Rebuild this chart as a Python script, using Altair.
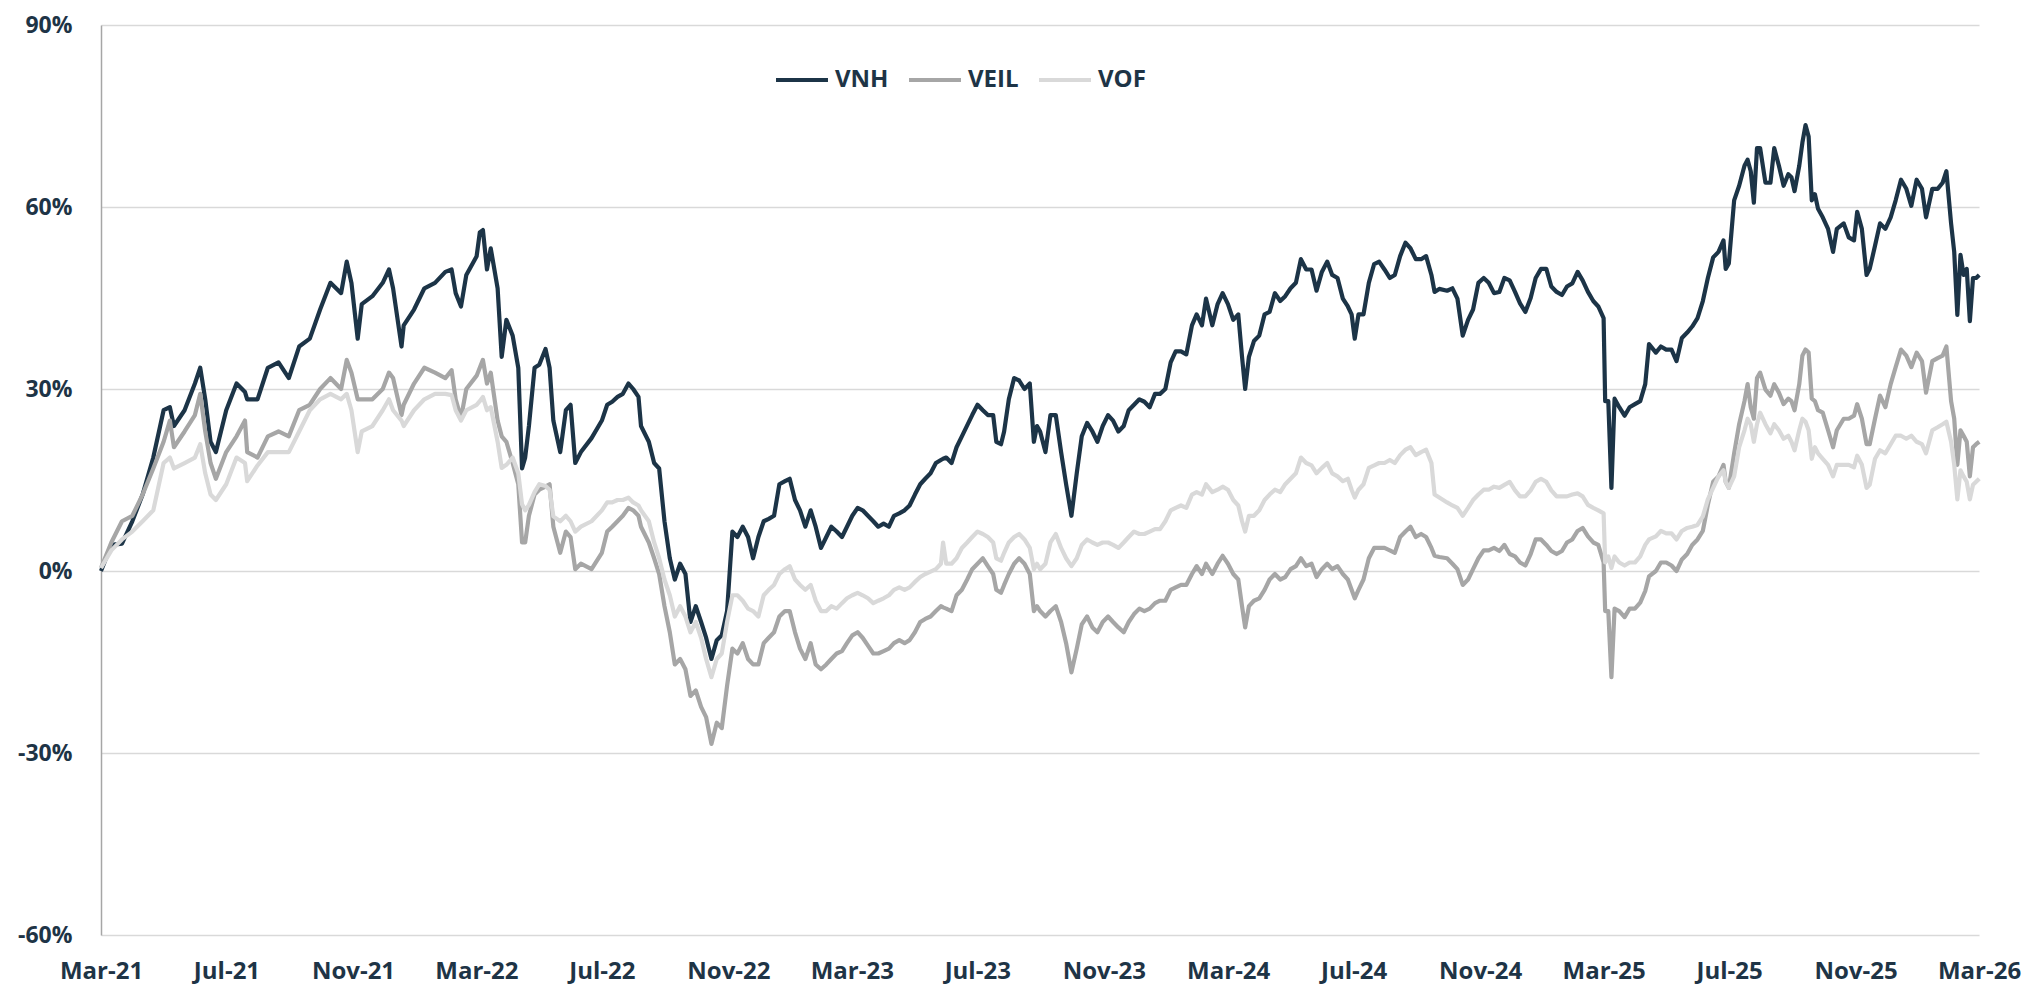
import altair as alt
import pandas as pd

series_names = ["VNH", "VEIL", "VOF"]
series_colors = ["#1c3447", "#a6a6a6", "#d9d9d9"]
tick_labels = ["Mar-21", "Jul-21", "Nov-21", "Mar-22", "Jul-22", "Nov-22", "Mar-23", "Jul-23",
               "Nov-23", "Mar-24", "Jul-24", "Nov-24", "Mar-25", "Jul-25", "Nov-25", "Mar-26"]

# months elapsed since 1 Mar 2021
months = [
    0, 0.33, 0.67, 1.0, 1.33, 1.67, 2.0, 2.2, 2.33, 2.67, 3.0, 3.17, 3.33, 3.5, 3.67, 4.0, 4.33, 4.6, 4.67,
    5.0, 5.33, 5.67, 6.0, 6.33, 6.67, 7.0, 7.33, 7.67, 7.85, 8.0, 8.2, 8.33, 8.67, 9.0, 9.2, 9.33, 9.6, 9.67,
    10.0, 10.33, 10.67, 11.0, 11.2, 11.33, 11.5, 11.67, 12.0, 12.1, 12.2, 12.33, 12.45, 12.67, 12.8, 12.95,
    13.15, 13.33, 13.45, 13.55, 13.67, 13.85, 14.0, 14.2, 14.33, 14.45, 14.67,
    14.85, 15.0, 15.15, 15.33, 15.67, 16.0, 16.17, 16.33, 16.5, 16.67, 16.85, 17.0, 17.17, 17.25, 17.5, 17.67,
    17.83, 18.0, 18.17, 18.33, 18.5, 18.67, 18.83, 19.0, 19.17, 19.33, 19.5, 19.67, 19.83, 20.0, 20.17, 20.33,
    20.5, 20.67, 20.83, 21.0, 21.17, 21.33, 21.5, 21.67, 21.85, 22.0, 22.17, 22.33, 22.5, 22.67, 22.83, 23.0,
    23.17, 23.33, 23.5, 23.67, 23.83, 24.0, 24.17, 24.33, 24.5, 24.67, 24.83, 25.0, 25.17, 25.33, 25.5, 25.67,
    25.83, 26.0, 26.17, 26.33, 26.5, 26.67, 26.83, 26.9, 27.0, 27.17, 27.33, 27.5, 27.67, 27.83, 28.0, 28.17,
    28.33, 28.5, 28.6, 28.75, 28.85, 29.0, 29.17, 29.33, 29.5, 29.67, 29.8,
    29.9, 30.0, 30.17, 30.33, 30.5, 30.67, 30.83, 31.0, 31.17, 31.33, 31.5, 31.67, 31.83, 32.0, 32.17, 32.33,
    32.5, 32.67, 32.83, 33.0, 33.17, 33.33, 33.5, 33.67, 33.83, 34.0, 34.17, 34.33, 34.5, 34.67, 34.85, 35.0,
    35.17, 35.3, 35.5, 35.67, 35.83, 36.0, 36.17, 36.33, 36.45, 36.55, 36.67, 36.83, 37.0, 37.17, 37.33, 37.5,
    37.67, 37.83, 38.0, 38.17, 38.33, 38.5, 38.67, 38.83, 39.0, 39.17, 39.33, 39.5, 39.67, 39.83, 39.95, 40.05,
    40.17, 40.33, 40.5, 40.67, 40.83, 41.0, 41.17, 41.33, 41.5, 41.67, 41.83, 42.0, 42.17, 42.33, 42.5, 42.6,
    42.75, 43.0, 43.17, 43.33, 43.5, 43.67, 43.83, 44.0, 44.17, 44.33, 44.5,
    44.67, 44.83, 45.0, 45.17, 45.33, 45.5, 45.67, 45.83, 46.0, 46.17, 46.33, 46.5, 46.67, 46.83, 47.0, 47.17,
    47.33, 47.5, 47.67, 47.83, 48.0, 48.05, 48.15, 48.25, 48.35, 48.5, 48.67, 48.83, 49.0, 49.17, 49.33, 49.45,
    49.67, 49.83, 50.0, 50.17, 50.33, 50.5, 50.67, 50.83, 51.0, 51.17, 51.33, 51.5, 51.67, 51.83, 51.9, 52.0,
    52.17, 52.33, 52.5, 52.6, 52.7, 52.8, 52.9, 53.0, 53.17, 53.33, 53.45, 53.6, 53.75, 53.9, 54.0, 54.1,
    54.25, 54.35, 54.45, 54.55, 54.65, 54.75, 54.85, 55.0, 55.17, 55.33, 55.45, 55.67, 55.83, 56.0, 56.1, 56.25,
    56.4, 56.5, 56.67, 56.83, 57.0, 57.17, 57.33, 57.5, 57.67, 57.83, 58.0, 58.17, 58.3, 58.5, 58.67, 58.83,
    58.95, 59.1, 59.2, 59.3, 59.4, 59.5, 59.6, 59.7, 59.8, 59.9, 60.0,
]

vnh = [
    0, 4.3, 4.5, 8.2, 12.6, 18.7, 26.5, 27.0, 23.9, 26.5, 30.9, 33.5, 28.3, 21.3, 19.6, 26.5, 30.9, 29.5, 28.3,
    28.3, 33.5, 34.4, 31.8, 37, 38.3, 43.1, 47.5, 45.8, 51, 47.5, 38.3, 44, 45.3, 47.5, 49.7, 46.6, 37, 40.5,
    43.1, 46.6, 47.5, 49.3, 49.7, 45.8, 43.6, 48.8, 51.9, 55.8, 56.2, 49.7, 53.2, 46.6, 35.3, 41.4,
    38.8, 33.5, 16.9, 18.7, 23.9, 33.5, 34, 36.6, 33.5, 24.8, 19.6,
    26.5, 27.4, 17.8, 19.6, 21.9, 24.8, 27.4, 27.9, 28.7, 29.2, 30.9, 30, 28.7, 23.9, 21.3, 17.8,
    16.9, 8.2, 2.1, -1.4, 1.2, -0.5, -8.4, -5.8, -8.4, -11, -14.5, -11.4, -10.6, -6.6, 6.5, 5.6,
    7.3, 5.6, 2.1, 5.6, 8.2, 8.6, 9.1, 14.3, 14.8, 15.2, 11.7, 10, 7.3, 10, 7.3, 3.8,
    5.6, 7.3, 6.5, 5.6, 7.3, 9.1, 10.4, 10, 9.1, 8.2, 7.3, 7.8, 7.3, 9.1, 9.5, 10,
    10.8, 12.6, 14.3, 15.2, 16.1, 17.8, 18.3, 18.5, 18.7, 17.8, 20.4, 22.2, 24, 25.7, 27.4, 26.5,
    25.7, 25.7, 21.3, 20.9, 23, 28.3, 31.8, 31.4, 30, 30.9, 21.3,
    23.9, 23, 19.6, 25.7, 25.7, 19.6, 14.3, 9.1, 16.1, 22.2, 24.4, 23, 21.3, 23.9, 25.7, 24.8,
    23, 23.9, 26.5, 27.4, 28.3, 27.9, 27, 29.2, 29.2, 30, 34.4, 36.2, 36.2, 35.7, 40.5, 42.3,
    40.5, 44.9, 40.5, 44, 45.8, 44, 41.4, 42.3, 35.3, 30, 35.3, 37.9, 38.8, 42.3, 42.7, 45.8,
    44.5, 45.3, 46.6, 47.5, 51.4, 49.7, 49.7, 46.2, 49.3, 51, 48.8, 48.3, 44.9, 43.6, 42.3, 38.3,
    42.3, 42.3, 47.5, 50.6, 51, 49.7, 48.3, 48.8, 51.9, 54.1, 53.2, 51.4, 51.4, 51.9, 48.8, 46,
    46.5, 46.2, 46.6, 44.9, 38.8, 41.4, 43.1, 47.5, 48.3, 47.5, 45.8,
    46, 48.3, 47.9, 46, 44.1, 42.7, 45, 48.3, 49.8, 49.8, 46.9, 46, 45.5, 46.9, 47.4, 49.3,
    47.9, 46, 44.5, 43.6, 41.7, 28, 28, 13.7, 28.4, 27, 25.6, 27, 27.5, 28, 30.8, 37.4,
    36, 37, 36.5, 36.5, 34.6, 38.4, 39.3, 40.3, 41.7, 44.5, 48.3, 51.7, 52.6, 54.5, 49.8, 50.7,
    61.1, 63.5, 66.8, 67.8, 65.9, 60.7, 69.7, 69.7, 64, 64, 69.7, 66.8, 63.5, 65.4, 64.9, 62.6,
    66.8, 70.6, 73.5, 71.6, 61.1, 62.1, 59.7, 58.3, 56.4, 52.6, 56.4, 57.3, 55, 54.5, 59.2, 56.4,
    48.8, 49.8, 53.6, 57.3, 56.4, 58.3, 61.1, 64.5, 63, 60.2, 64.5, 63, 58.3, 63, 63, 64,
    65.9, 57.3, 52.6, 42.2, 52.1, 48.8, 49.8, 41.2, 48.3, 48.3, 48.8,
]

veil = [
    0.5, 4.7, 8.2, 9.1, 12.6, 16.9, 21.3, 24.8, 20.4, 23, 25.7, 29.2, 23, 17.8, 15.2, 19.6, 22.2, 24.8, 19.6,
    18.7, 22.2, 23, 22.2, 26.5, 27.4, 30, 31.8, 30, 34.8, 32.7, 28.3, 28.3, 28.3, 30, 32.7, 31.8, 25.7, 27.4,
    30.9, 33.5, 32.7, 31.8, 33.1, 28.3, 25.2, 30, 32.2, 33.5, 34.8, 30.9, 32.7, 24.8, 22.2, 21.3,
    17.8, 14.3, 4.7, 4.7, 9.1, 12.6, 13.4, 13.9, 14.3, 7.3, 3.0,
    6.5, 5.6, 0.3, 1.2, 0.3, 3, 6.5, 7.3, 8.2, 9.1, 10.4, 10, 9.1, 7.3, 4.7, 2.1,
    -0.5, -5.8, -10.1, -15.4, -14.5, -16.2, -20.6, -19.7, -22.4, -24.1, -28.5, -25, -25.9, -18.9, -12.8, -13.6,
    -11.9, -14.5, -15.4, -15.4, -11.9, -11, -10.1, -7.5, -6.6, -6.6, -10.1, -12.8, -14.5, -11.9, -15.4, -16.2,
    -15.4, -14.5, -13.6, -13.2, -11.9, -10.6, -10.1, -11, -12.3, -13.6, -13.6, -13.2, -12.8, -11.9, -11.4, -11.9,
    -11.4, -10.1, -8.4, -7.9, -7.5, -6.6, -5.8, -6, -6.2, -6.6, -4, -3.1, -1.4, 0.3, 1.2, 2.1,
    0.8, -0.5, -3.1, -3.6, -2.3, -0.5, 1.2, 2.1, 1.2, -0.5, -6.6,
    -5.8, -6.6, -7.5, -6.6, -5.8, -8.4, -11.9, -16.7, -12.8, -8.8, -7.5, -9.3, -10.1, -8.4, -7.5, -8.4,
    -9.3, -10.1, -8.4, -7.1, -6.2, -6.6, -6.2, -5.3, -4.9, -4.9, -3.1, -2.7, -2.3, -2.3, -0.5, 0.8,
    -0.5, 1.2, -0.5, 1.2, 2.5, 1.2, -0.5, -1.4, -5.8, -9.3, -5.8, -4.9, -4.5, -3.1, -1.4, -0.5,
    -1.4, -1, 0.3, 0.8, 2.1, 0.8, 1.2, -1, 0.3, 1.2, 0.3, 0.8, -0.5, -1.4, -3.1, -4.5,
    -3.1, -1.4, 2.1, 3.8, 3.8, 3.8, 3.4, 3, 5.6, 6.5, 7.3, 5.6, 6.1, 5.6, 3.8, 2.5,
    2.3, 2.1, 1.2, 0.3, -2.3, -1.4, 0.3, 2.1, 3.4, 3.4, 3.8,
    3.3, 4.3, 2.8, 2.4, 1.4, 0.9, 2.8, 5.2, 5.2, 4.3, 3.3, 2.8, 3.3, 4.7, 5.2, 6.6,
    7.1, 5.7, 4.7, 4.3, 1.4, -6.6, -6.6, -17.5, -6.2, -6.6, -7.6, -6.2, -6.2, -5.2, -3.3, -0.9,
    0, 1.4, 1.4, 0.9, 0, 1.9, 2.8, 4.3, 5.2, 6.6, 10.9, 14.7, 15.6, 17.5, 14.7, 13.7,
    19.4, 24.2, 28, 30.8, 27, 25.1, 31.8, 32.7, 29.9, 28.9, 30.8, 29.4, 27.5, 28.4, 28, 26.5,
    30.8, 35.5, 36.5, 36, 28.4, 28, 26.5, 26.1, 23.2, 20.4, 23.2, 25.1, 25.1, 25.6, 27.5, 25.1,
    20.9, 20.9, 25.1, 28.9, 27, 30.8, 33.6, 36.5, 35.5, 33.6, 36, 34.6, 29.4, 34.6, 35.1, 35.5,
    37, 28, 25.1, 17.5, 23.2, 22.3, 21.3, 15.6, 20.4, 20.9, 21.3,
]

vof = [
    0.5, 3.4, 5.2, 6.5, 8.2, 10, 17.8, 18.7, 16.9, 17.8, 18.7, 20.9, 16.1, 12.6, 11.7, 14.3, 18.7, 17.8, 14.8,
    17.4, 19.6, 19.6, 19.6, 23, 26.5, 28.3, 29.2, 28.3, 29.2, 26.5, 19.6, 23, 23.9, 26.5, 28.3, 26.5, 24.8, 23.9,
    26.5, 28.3, 29.2, 29.2, 29, 26.5, 24.8, 26.5, 27.4, 28, 28.7, 26.5, 27, 21.3, 17, 17.5,
    18.7, 16.1, 11, 10, 10.9, 13, 14.3, 14, 13.4, 9, 8.2,
    9.1, 8.2, 6.5, 7.3, 8.2, 10, 11.3, 11.3, 11.7, 11.7, 12.1, 11.3, 10.8, 10, 8.2, 4.7,
    2.1, -1.4, -4, -7.5, -5.8, -7.5, -10.1, -8.4, -11, -14.5, -17.5, -14.5, -13.6, -8.4, -4, -4,
    -4.9, -6.2, -6.6, -7.5, -4, -3.1, -2.3, -0.5, 0.3, 0.8, -1.4, -2.3, -3.1, -2.3, -4.9, -6.6,
    -6.6, -5.8, -6.2, -5.3, -4.5, -4, -3.6, -4, -4.5, -5.3, -4.9, -4.5, -4, -3.1, -2.7, -3.1,
    -2.7, -1.8, -1, -0.5, -0.1, 0.3, 1.2, 4.7, 1.2, 1.2, 2.1, 3.8, 4.7, 5.6, 6.5, 6.1,
    5.6, 4.7, 2.1, 1.7, 3, 4.7, 5.6, 6.1, 5.2, 3.8, 0.3,
    1.2, 0.3, 1.2, 4.7, 6.1, 3.8, 2.1, 0.8, 2.1, 4.3, 5.2, 4.7, 4.3, 4.7, 4.7, 4.3,
    3.8, 4.7, 5.6, 6.5, 6.1, 6.1, 6.5, 6.9, 6.9, 8.2, 10, 10.4, 10.8, 10.4, 12.6, 13,
    12.6, 14.3, 13, 13.4, 13.9, 13.4, 11.7, 10.8, 8.2, 6.5, 9.1, 9.1, 10, 11.7, 12.6, 13.4,
    13, 14.3, 15.2, 16.1, 18.7, 17.8, 17.4, 16.1, 17, 17.8, 16.1, 15.6, 14.8, 15.2, 13.4, 12.1,
    13.4, 14.3, 17, 17.4, 17.8, 17.8, 18.3, 17.8, 19.1, 20, 20.4, 19.1, 19.6, 20, 17.8, 12.6,
    12.1, 11.3, 10.8, 10.4, 9.1, 10.4, 11.7, 12.6, 13.4, 13.4, 13.9,
    13.7, 14.2, 14.7, 13.3, 12.3, 12.3, 13.3, 14.7, 15.2, 14.7, 13.3, 12.3, 12.3, 12.3, 12.6, 12.8,
    12.3, 10.9, 10.4, 10, 9.5, 1.4, 2.4, 0.5, 2.4, 1.4, 0.9, 1.4, 1.4, 2.4, 4.3, 5.2,
    5.7, 6.6, 6.2, 6.2, 5.2, 6.6, 7.1, 7.3, 7.6, 9, 11.8, 13.7, 15.6, 16.6, 14.7, 13.7,
    15.6, 20.4, 23.2, 25.1, 24.2, 21.3, 24.2, 26.1, 24.2, 22.7, 24.2, 23.2, 21.8, 22.3, 21.3, 19.9,
    23.2, 25.1, 24.6, 23.2, 18.5, 20.4, 19.4, 18.5, 17.5, 15.6, 17.5, 17.5, 17.5, 17.1, 19, 17.5,
    13.7, 14.2, 18.5, 19.9, 19.4, 20.9, 22.3, 22.3, 21.8, 22.3, 21.3, 20.9, 19.4, 23.2, 23.7, 24.2,
    24.6, 21.3, 17.5, 11.8, 16.6, 15.6, 14.7, 11.8, 14.2, 14.7, 15.2,
]

start = pd.Timestamp("2021-03-01")
dates = [(start + pd.Timedelta(days=m * 30.4375)).strftime("%Y-%m-%dT%H:%M:%S") for m in months]

rows = []
for name, vals in zip(series_names, [vnh, veil, vof]):
    for d, v in zip(dates, vals):
        rows.append({"date": d, "value": v, "series": name})
df = pd.DataFrame(rows)

navy = "#1e3446"
font = "Open Sans"

tick_dates = []
for lbl in tick_labels:
    t = pd.to_datetime(lbl, format="%b-%y")
    tick_dates.append(alt.DateTime(year=t.year, month=t.month, date=1))

chart = alt.Chart(df).mark_line(strokeWidth=4.2, interpolate="linear", strokeJoin="round").encode(
    x=alt.X("date:T",
            scale=alt.Scale(domain=[alt.DateTime(year=2021, month=3, date=1),
                                    alt.DateTime(year=2026, month=3, date=1)]),
            axis=alt.Axis(values=tick_dates, format="%b-%y", title=None, grid=False,
                          domain=False, ticks=False, labelPadding=24, labelFlush=False,
                          labelOverlap=False, labelFont=font, labelFontSize=24,
                          labelFontWeight="bold", labelColor=navy)),
    y=alt.Y("value:Q",
            scale=alt.Scale(domain=[-60, 90], nice=False, zero=False),
            axis=alt.Axis(values=[-60, -30, 0, 30, 60, 90], labelExpr="datum.value + '%'",
                          title=None, grid=True, gridColor="#d9d9d9", gridWidth=1.5,
                          domain=True, domainColor="#a6a6a6", domainWidth=1.5, ticks=False,
                          labelPadding=29, labelFont=font, labelFontSize=23,
                          labelFontWeight="bold", labelColor=navy)),
    color=alt.Color("series:N",
                    scale=alt.Scale(domain=series_names, range=series_colors),
                    sort=series_names,
                    legend=alt.Legend(title=None, orient="none", legendX=673, legendY=27,
                                      direction="horizontal", symbolType="stroke",
                                      symbolSize=2700, symbolStrokeWidth=4,
                                      labelFont=font, labelFontSize=24, labelFontWeight="bold",
                                      labelColor=navy, columnPadding=12, labelOffset=5)),
    order=alt.Order("series_order:Q"),
).transform_calculate(
    series_order="indexof(['VNH','VEIL','VOF'], datum.series)"
).properties(
    width=1878, height=910,
    autosize="none",
    padding={"left": 93, "top": 17, "right": 55, "bottom": 50},
).configure_view(stroke=None)

chart.save("out.html", embed_options={"renderer": "svg", "actions": False})
